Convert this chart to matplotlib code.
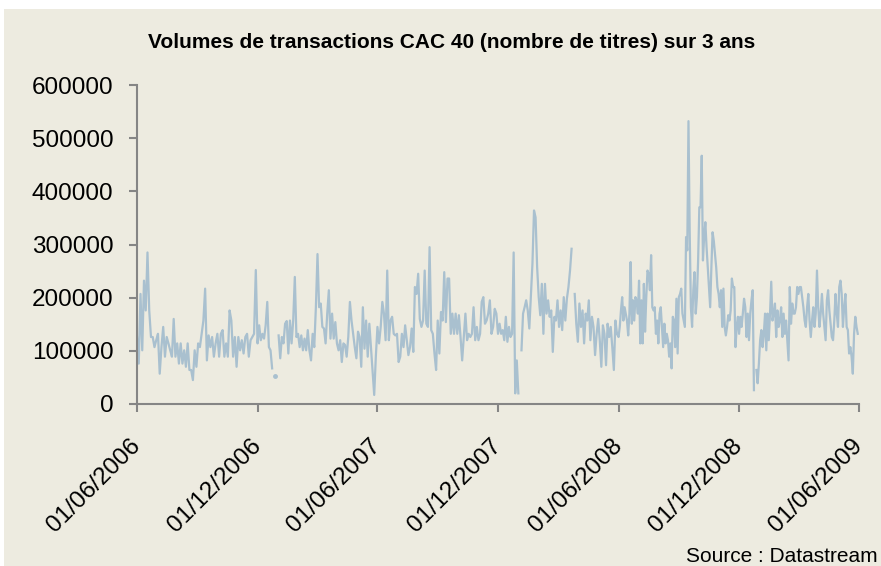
import matplotlib
matplotlib.use('Agg')
import matplotlib.pyplot as plt
from matplotlib.patches import Rectangle
import numpy as np
import pandas as pd

nan = np.nan

# half-year boundaries (x ticks)
tick_dates = ['2006-06-01', '2006-12-01', '2007-06-01', '2007-12-01',
              '2008-06-01', '2008-12-01', '2009-06-01']
tick_labels = ['01/06/2006', '01/12/2006', '01/06/2007', '01/12/2007',
               '01/06/2008', '01/12/2008', '01/06/2009']

# daily volumes, thousands of shares (nan = no data)
vol_h2_2006 = [126, 76, 207, 101, 232, 176, 285, 176, 126, 126, 107, 120, 132, 57, 107,
               145, 89, 126, 114, 101, 89, 160, 89, 114, 76, 114, 76, 101, 70, 114,
               64, 64, 45, 101, 70, 114, 107, 132, 157, 217, 82, 129, 107, 126, 89,
               114, 132, 89, 132, 139, 89, 114, 89, 176, 157, 89, 126, 70, 126, 101,
               120, 95, 126, 132, 89, 120, 126, 132, 252]
vol_h1_2007 = [114, 148, 120, 132, 123, 148, 192, 107, 101, 67, nan, 52, nan, 129, 86,
               126, 114, 151, 156, 95, 157, 114, 157, 239, 126, 132, 107, 129, 101, 123,
               101, 139, 101, 82, 132, 107, 182, 282, 182, 189, 145, 142, 114, 170, 214,
               123, 170, 123, 154, 114, 101, 120, 79, 114, 111, 89, 126, 192, 157, 132,
               107, 86, 136, 126, 70, 182, 104, 157, 89, 151, 107, 64, 17, 89]
vol_h2_2007 = [145, 114, 145, 192, 170, 120, 251, 120, 157, 164, 132, 129, 132, 79, 89,
               132, 107, 148, 120, 92, 107, 142, 98, 220, 207, 245, 160, 145, 157, 251,
               151, 145, 295, 139, 132, 95, 64, 157, 95, 173, 157, 248, 154, 236, 236,
               132, 170, 132, 170, 132, 167, 126, 82, 126, 170, 120, 132, 126, 132, 182,
               120, 145, 120, 132, 192, 201, 151, 157, 170, 195, 132, 145, 179, 170]
vol_h1_2008 = [132, 151, 132, 139, 120, 164, 117, 145, 126, 132, 285, 20, 82, 20, nan,
               101, 170, 182, 195, 176, 142, 201, 264, 364, 351, 257, 201, 167, 226, 132,
               226, 170, 195, 164, 176, 98, 164, 157, 195, 145, 176, 139, 201, 157, 198,
               220, 251, 292, nan, 207, 151, 117, 189, 145, 176, 114, 170, 157, 195, 120,
               164, 145, 92, 132, 160, 120, 70, 148, 132, 73, 151, 126, 145, 107, 64,
               157, 132]
vol_h2_2008 = [126, 145, 176, 201, 157, 182, 170, 157, 129, 170, 267, 151, 195, 157, 201,
               195, 170, 232, 114, 195, 114, 226, 136, 201, 251, 245, 214, 280, 182, 176,
               182, 132, 157, 114, 170, 182, 145, 107, 151, 114, 132, 120, 89, 114, 67,
               164, 157, 107, 198, 95, 201, 207, 217, 170, 157, 145, 314, 289, 532, 326,
               182, 145, 214, 248, 170, 201, 270, 370, 370, 467, 270, 314, 342, 295, 257,
               220, 182, 257, 323, 307, 282, 257, 220, 207, 182, 214, 145, 217, 145, 129,
               145, 167, 157, 176, 236, 220, 220, 107, 145, 164]
vol_h1_2009 = [132, 164, 145, 170, 198, 182, 126, 170, 120, 170, 195, 214, 26, nan, 64,
               39, 76, 120, 139, 107, 132, 170, 101, 170, 120, 170, 230, 157, 170, 189,
               126, 176, 145, 157, 182, 126, 170, 132, 157, 120, 82, 220, 151, 189, 170,
               170, 182, 220, 207, 220, 220, 201, 182, 157, 145, 182, 207, 157, 126, 157,
               182, 145, 170, 251, 182, 145, 170, 207, 170, 145, 120, 195, 214, 176, 151,
               126, 120, 157, 207, 170, 145, 220, 232, 207, 145, 182, 207, 145, 139, 95,
               107, 89, 57, 132, 164, 145, 132]

segments = [vol_h2_2006, vol_h1_2007, vol_h2_2007, vol_h1_2008, vol_h2_2008, vol_h1_2009]

dates = []
values = []
for i, seg in enumerate(segments):
    d = pd.date_range(tick_dates[i], tick_dates[i + 1], periods=len(seg) + 1)[:-1]
    dates.extend(d)
    values.extend(seg)
dates = pd.DatetimeIndex(dates)
volume = np.array(values, dtype=float) * 1000

# points with no neighbour on either side would not show as a line
prev_nan = np.r_[True, np.isnan(volume[:-1])]
next_nan = np.r_[np.isnan(volume[1:]), True]
alone = ~np.isnan(volume) & prev_nan & next_nan

bg = '#EDEBE0'
line_col = '#A9C0CF'
axis_col = '#858585'

fig = plt.figure(figsize=(8.81, 5.66), dpi=100, facecolor='white')
fig.patches.append(Rectangle((4 / 881, 0), 1, 1 - 9 / 566, transform=fig.transFigure,
                             facecolor=bg, edgecolor='none', zorder=-10))

ax = fig.add_axes([137 / 881, 1 - 404 / 566, (859 - 137) / 881, (404 - 85) / 566])
ax.set_facecolor('none')
ax.plot(dates, volume, color=line_col, linewidth=1.6)
ax.plot(dates[alone], volume[alone], 'o', color=line_col, markersize=2.5)

ax.set_xlim(pd.Timestamp(tick_dates[0]), pd.Timestamp(tick_dates[-1]))
ax.set_ylim(0, 600000)

yt = list(range(0, 600001, 100000))
ax.set_yticks(yt)
ax.set_yticklabels([str(v) for v in yt], fontsize=17.5, family='Liberation Sans')
ax.set_xticks(pd.to_datetime(tick_dates))
ax.set_xticklabels(tick_labels, fontsize=17.5, family='Liberation Sans', rotation=45,
                   ha='right', va='center', rotation_mode='anchor')

for s in ['top', 'right']:
    ax.spines[s].set_visible(False)
for s in ['left', 'bottom']:
    ax.spines[s].set_color(axis_col)
    ax.spines[s].set_linewidth(1.5)
ax.tick_params(axis='y', direction='out', length=6, width=1.5, color=axis_col, pad=11)
ax.tick_params(axis='x', direction='out', length=6, width=1.5, color=axis_col, pad=22)

fig.text(452 / 881, 1 - 42 / 566, 'Volumes de transactions CAC 40 (nombre de titres) sur 3 ans',
         ha='center', va='center', fontsize=15, fontweight='bold', family='Liberation Sans')
fig.text(878 / 881, 1 - 556 / 566, 'Source : Datastream', ha='right', va='center',
         fontsize=15, family='Liberation Sans')

fig.savefig('out.png', dpi=100, facecolor='white')
